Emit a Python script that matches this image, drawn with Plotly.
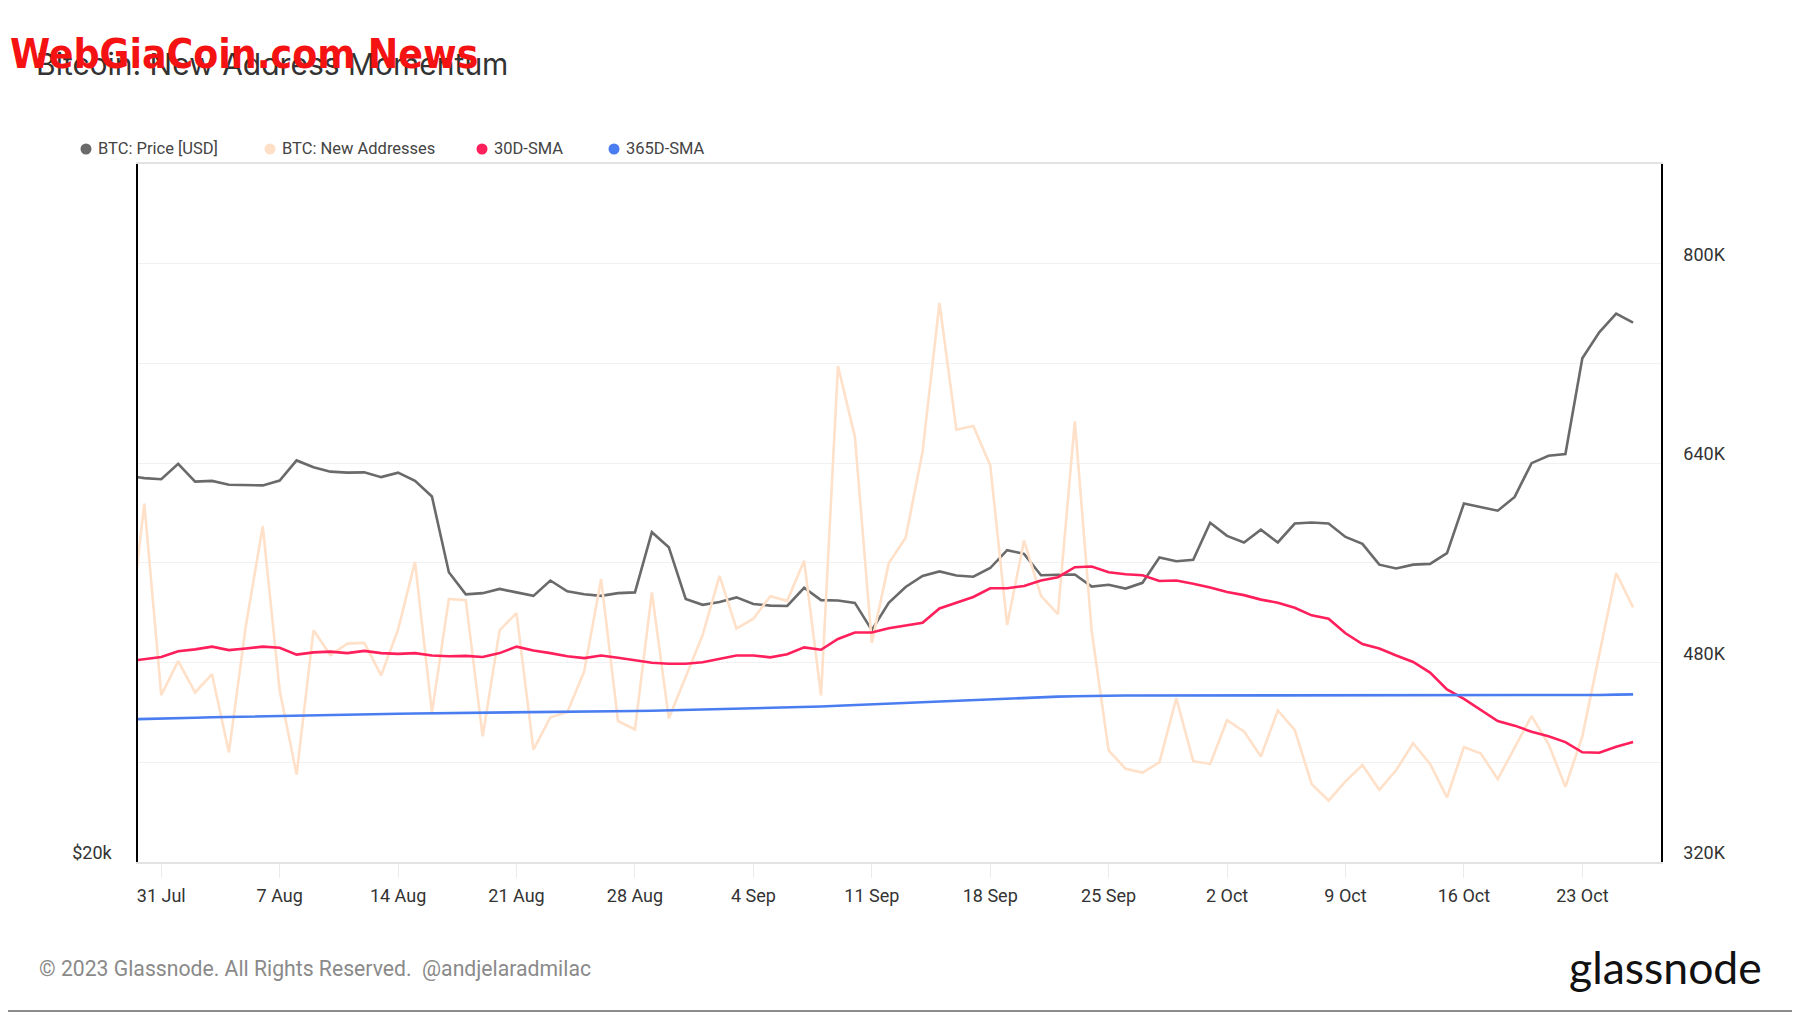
import pandas as pd
import plotly.graph_objects as go

# ---------------- data ----------------
start_date = "2023-07-29"
n_days = 90
dates = pd.date_range(start_date, periods=n_days, freq="D")

# BTC price [USD], in thousands
price_k = [
    29.35, 29.28, 29.25,
    29.70, 29.18, 29.20, 29.09, 29.07, 29.07, 29.21, 29.80, 29.60, 29.47,
    29.44, 29.45, 29.31, 29.44, 29.20, 28.75, 26.67, 26.09, 26.12, 26.23,
    26.14, 26.05, 26.45, 26.17, 26.09, 26.05, 26.12, 26.14, 27.75, 27.34, 25.97,
    25.82, 25.89, 26.01, 25.84, 25.80, 25.79, 26.26, 25.94, 25.93, 25.87,
    25.18, 25.87, 26.28, 26.57, 26.69, 26.58, 26.55, 26.78, 27.26, 27.16,
    26.59, 26.60, 26.61, 26.29, 26.34, 26.24, 26.39, 27.06, 26.96, 27.00,
    28.01, 27.65, 27.47, 27.82, 27.47, 27.99, 28.02, 27.99, 27.62, 27.43,
    26.87, 26.77, 26.87, 26.89, 27.18, 28.55, 28.45, 28.35, 28.74, 29.72,
    29.94, 29.99, 32.98, 33.84, 34.48, 34.17,
]

# BTC new addresses, in thousands
new_addr_k = [
    490.0, 607.6, 453.9,
    481.1, 456.0, 470.7, 407.9, 509.6, 589.3, 457.6, 390.2, 505.9, 486.0,
    495.2, 495.8, 469.8, 506.6, 560.8, 439.8, 531.1, 530.1, 420.8, 505.9,
    519.7, 410.1, 436.1, 440.1, 472.9, 547.0, 433.1, 426.3, 536.3, 435.2, 468.6,
    502.0, 549.5, 507.2, 515.2, 533.2, 529.5, 561.7, 453.6, 717.9, 661.2,
    495.8, 559.6, 580.1, 649.0, 768.5, 666.8, 669.8, 638.3, 510.2, 577.9,
    533.5, 518.8, 673.5, 505.0, 409.5, 394.8, 391.7, 400.0, 451.4, 400.9,
    398.7, 433.7, 424.8, 404.6, 441.6, 426.0, 382.5, 369.3, 384.7, 397.8,
    377.9, 393.8, 415.3, 398.7, 371.8, 412.2, 407.0, 386.5, 411.6, 437.0,
    414.7, 380.4, 420.8, 486.7, 551.9, 524.3,
]

# 30-day simple moving average of new addresses, in thousands
sma30_k = [
    481.0, 482.7, 484.5,
    489.1, 490.6, 492.8, 490.0, 491.3, 492.8, 491.9, 486.4, 488.2, 488.8,
    487.6, 489.4, 487.6, 487.0, 487.6, 485.7, 485.1, 485.4, 484.5, 487.6,
    492.8, 489.7, 487.6, 485.1, 483.6, 485.7, 483.9, 482.1, 479.9, 479.0, 479.0,
    480.2, 482.7, 485.7, 485.7, 484.2, 486.7, 492.2, 490.3, 498.9, 504.1,
    504.1, 507.5, 509.6, 512.0, 523.4, 528.0, 532.6, 539.6, 539.6, 541.5,
    545.8, 548.5, 556.5, 557.1, 552.5, 550.9, 550.0, 545.5, 545.8, 543.3,
    540.3, 536.6, 534.1, 530.5, 528.0, 524.0, 517.9, 515.1, 503.5, 494.9,
    491.3, 485.7, 480.5, 472.0, 458.5, 450.8, 442.2, 433.1, 429.4, 424.5,
    420.8, 416.2, 408.0, 407.6, 412.5, 416.2,
]

# 365-day simple moving average of new addresses, in thousands
sma365_k = [
    434.4, 434.6, 434.9,
    435.3, 435.7, 436.1, 436.3, 436.5, 436.8, 437.0, 437.3, 437.6, 437.8,
    438.1, 438.4, 438.6, 438.9, 439.2, 439.4, 439.6, 439.8, 439.9, 440.0,
    440.1, 440.3, 440.4, 440.6, 440.7, 440.9, 441.0, 441.2, 441.3, 441.6, 441.9,
    442.2, 442.5, 442.8, 443.2, 443.5, 443.9, 444.3, 444.7, 445.3, 445.9,
    446.5, 447.0, 447.6, 448.2, 448.9, 449.5, 450.2, 450.8, 451.3, 451.8,
    452.3, 452.7, 453.0, 453.3, 453.5, 453.6, 453.6, 453.6, 453.6, 453.6,
    453.6, 453.6, 453.7, 453.7, 453.7, 453.6, 453.6, 453.6, 453.6, 453.6,
    453.5, 453.5, 453.5, 453.5, 453.5, 453.5, 453.5, 453.5, 453.5, 453.5,
    453.5, 453.6, 453.7, 454.0, 454.3, 454.5,
]

right_tick_vals_k = [320, 400, 480, 560, 640, 720, 800, 880]
right_tick_text = ["320K", "", "480K", "", "640K", "", "800K", ""]
left_tick_vals = [20000]
left_tick_text = ["$20k"]

legend_names = ["BTC: Price [USD]", "BTC: New Addresses", "30D-SMA", "365D-SMA"]

# ---------------- style ----------------
C_PRICE = "#6a6a6a"
C_NEW = "#ffe0c9"
C_SMA30 = "#ff1f5a"
C_SMA365 = "#4a7df0"
FONT = "Roboto, Inter, sans-serif"

OFF = 8  # browser body margin
W, H = 1800 - OFF, 1013 - OFF
# plot area, in screen pixels of the target picture
SL, SR, ST, SB = 138, 1661, 164, 862
L, R, T, B = SL - OFF, SR - OFF, ST - OFF, SB - OFF
PW, PH = R - L, B - T


def px(x):
    return (x - OFF - L) / PW


def py(y):
    return (B - (y - OFF)) / PH


fig = go.Figure()
fig.add_trace(go.Scatter(x=dates, y=[v * 1000 for v in new_addr_k], yaxis="y2",
                         mode="lines", line=dict(color=C_NEW, width=2.6),
                         name=legend_names[1], showlegend=False))
fig.add_trace(go.Scatter(x=dates, y=[v * 1000 for v in sma30_k], yaxis="y2",
                         mode="lines", line=dict(color=C_SMA30, width=2.6),
                         name=legend_names[2], showlegend=False))
fig.add_trace(go.Scatter(x=dates, y=[v * 1000 for v in sma365_k], yaxis="y2",
                         mode="lines", line=dict(color=C_SMA365, width=2.6),
                         name=legend_names[3], showlegend=False))
fig.add_trace(go.Scatter(x=dates, y=[v * 1000 for v in price_k], yaxis="y",
                         mode="lines", line=dict(color=C_PRICE, width=2.6),
                         name=legend_names[0], showlegend=False))

fig.update_layout(
    width=W, height=H,
    margin=dict(l=L, r=W - R, t=T, b=H - B, pad=0),
    paper_bgcolor="white", plot_bgcolor="white",
    font=dict(family=FONT, color="#333333"),
    showlegend=False,
    xaxis=dict(
        type="date",
        range=["2023-07-29 15:00", "2023-10-27 15:36"],
        tick0="2023-07-31", dtick=7 * 24 * 3600 * 1000,
        tickformat="%-d %b",
        ticks="outside", ticklen=14, tickcolor="#ebebeb", tickwidth=1,
        ticklabelstandoff=3,
        showgrid=False, zeroline=False,
        showline=True, linecolor="#e3e3e3", linewidth=1.5, mirror=True,
        tickfont=dict(family=FONT, size=18, color="#333333"),
    ),
    yaxis=dict(
        type="log",
        range=[4.30103, 4.60206],
        tickvals=left_tick_vals, ticktext=left_tick_text,
        ticks="", ticklabelstandoff=21, ticklabelshift=-9,
        showgrid=False, zeroline=False,
        showline=True, linecolor="#000000", linewidth=1.5,
        tickfont=dict(family=FONT, size=18, color="#333333"),
    ),
    yaxis2=dict(
        overlaying="y", side="right",
        range=[320000, 880000],
        tickvals=[v * 1000 for v in right_tick_vals_k], ticktext=right_tick_text,
        ticks="", ticklabelstandoff=17, ticklabelshift=-9,
        showgrid=True, gridcolor="#f1f1f1", gridwidth=1,
        zeroline=False,
        showline=True, linecolor="#000000", linewidth=1.5,
        tickfont=dict(family=FONT, size=18, color="#333333"),
    ),
)

annotations = []
shapes = []

# title + watermark
annotations.append(dict(text="Bitcoin: New Address Momentum", x=px(34), y=py(64),
                        xref="paper", yref="paper", xanchor="left", yanchor="middle",
                        showarrow=False, font=dict(family="Inter, Roboto, sans-serif", size=30, color="#333333")))
annotations.append(dict(text="<b>WebGiaCoin.com News</b>", x=px(8), y=py(54),
                        xref="paper", yref="paper", xanchor="left", yanchor="middle",
                        showarrow=False,
                        font=dict(family="Liberation Sans Narrow, DejaVu Sans Condensed, Arial Narrow, Liberation Sans, sans-serif",
                                  size=40.5, color="#f51212")))

# legend
legend_colors = [C_PRICE, "#ffdfc6", C_SMA30, C_SMA365]
legend_dot_x = [86, 270, 482, 614]
for name, col, dx in zip(legend_names, legend_colors, legend_dot_x):
    shapes.append(dict(type="circle", xref="paper", yref="paper",
                       xsizemode="pixel", ysizemode="pixel",
                       xanchor=px(dx), yanchor=py(149),
                       x0=-5.5, x1=5.5, y0=-5.5, y1=5.5,
                       fillcolor=col, line=dict(width=0)))
    annotations.append(dict(text=name, x=px(dx + 10), y=py(149), xref="paper", yref="paper",
                            xanchor="left", yanchor="middle", showarrow=False,
                            font=dict(family=FONT, size=16.5, color="#444444")))

# footer
annotations.append(dict(text="© 2023 Glassnode. All Rights Reserved.  @andjelaradmilac",
                        x=px(37), y=py(968), xref="paper", yref="paper",
                        xanchor="left", yanchor="middle", showarrow=False,
                        font=dict(family=FONT, size=21.2, color="#8a8a8a")))
annotations.append(dict(text="glassnode", x=px(1764), y=py(966), xref="paper", yref="paper",
                        xanchor="right", yanchor="middle", showarrow=False,
                        font=dict(family="Lato, Inter, sans-serif", size=44.5, color="#111111")))
shapes.append(dict(type="line", xref="paper", yref="paper",
                   x0=px(OFF), x1=px(1800), y0=py(1011), y1=py(1011),
                   line=dict(color="#8c8c8c", width=2)))

fig.update_layout(annotations=annotations, shapes=shapes)
fig.write_html("out.html")
